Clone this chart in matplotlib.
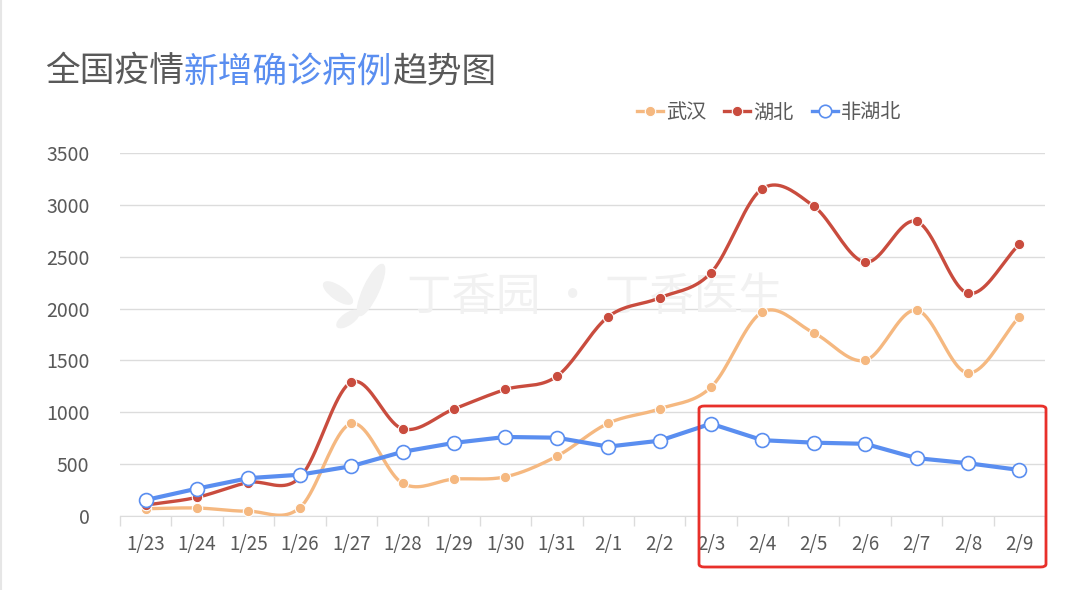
import numpy as np
import matplotlib
matplotlib.use("Agg")
import matplotlib.pyplot as plt
from matplotlib.lines import Line2D
from matplotlib.patches import FancyBboxPatch, Ellipse

plt.rcParams["font.family"] = ["Noto Sans CJK SC", "DejaVu Sans"]

dates = ["1/23", "1/24", "1/25", "1/26", "1/27", "1/28", "1/29", "1/30", "1/31",
         "2/1", "2/2", "2/3", "2/4", "2/5", "2/6", "2/7", "2/8", "2/9"]
wuhan = [70, 77, 46, 80, 892, 315, 356, 378, 576,
         894, 1033, 1242, 1967, 1766, 1501, 1985, 1379, 1920]
hubei = [105, 180, 323, 371, 1291, 840, 1032, 1220, 1347,
         1921, 2103, 2345, 3156, 2987, 2447, 2841, 2147, 2618]
non_hubei = [154, 264, 365, 398, 480, 619, 705, 762, 755,
             669, 726, 890, 731, 707, 696, 558, 509, 444]
yticks = [0, 500, 1000, 1500, 2000, 2500, 3000, 3500]

C_WUHAN = "#f5b880"
C_HUBEI = "#c94c3e"
C_NON = "#5a8ef0"
C_TEXT = "#595959"
C_GRID = "#dcdcdc"
C_MARK = "#f1f1f1"


def smooth(y, n=20):
    # Catmull-Rom spline through the points, like the office "smoothed line"
    y = np.asarray(y, dtype=float)
    p = np.concatenate([[2 * y[0] - y[1]], y, [2 * y[-1] - y[-2]]])
    xs, ys = [], []
    t = np.linspace(0, 1, n, endpoint=False)
    for i in range(len(y) - 1):
        p0, p1, p2, p3 = p[i], p[i + 1], p[i + 2], p[i + 3]
        seg = 0.5 * ((2 * p1) + (-p0 + p2) * t
                     + (2 * p0 - 5 * p1 + 4 * p2 - p3) * t ** 2
                     + (-p0 + 3 * p1 - 3 * p2 + p3) * t ** 3)
        xs.append(i + t)
        ys.append(seg)
    xs.append([len(y) - 1])
    ys.append([y[-1]])
    return np.concatenate(xs), np.concatenate(ys)


fig = plt.figure(figsize=(10.8, 5.9), dpi=100)
ax = fig.add_axes([120 / 1080, 74 / 590, 925 / 1080, 363 / 590])

x = np.arange(len(dates))

# watermark: leaf logo + brand text, kept under the lines
ax.text(595 / 1080, 1 - 297 / 590, "丁香园 · 丁香医生", transform=fig.transFigure,
        ha="center", va="center", fontsize=32, color=C_MARK, zorder=1)
for cx, cy, w, h, ang in [(371, 290, 15, 56, -25), (338, 293, 13, 34, 55),
                          (348, 319, 11, 26, -55)]:
    # positions in pixels -> inches so the rotation stays round
    ax.add_patch(Ellipse((cx / 100, (590 - cy) / 100), w / 100, h / 100,
                         angle=ang, transform=fig.dpi_scale_trans, color=C_MARK,
                         zorder=1, clip_on=False))

for vals, col in [(wuhan, C_WUHAN), (hubei, C_HUBEI)]:
    sx, sy = smooth(vals)
    ax.plot(sx, sy, color=col, lw=2.4, zorder=3, solid_capstyle="round")
    ax.plot(x, vals, "o", color=col, ms=7.5, mec="white", mew=0.8, zorder=4)

ax.plot(x, non_hubei, color=C_NON, lw=3, marker="o", ms=10, mfc="white",
        mec=C_NON, mew=1.2, zorder=5)

ax.set_xlim(-0.5, len(dates) - 0.5)
ax.set_ylim(0, 3500)
ax.set_yticks(yticks)
ax.set_yticklabels([str(v) for v in yticks], fontsize=14, color=C_TEXT)
ax.set_xticks(x)
ax.set_xticklabels(dates, fontsize=13.5, color=C_TEXT)
ax.set_xticks(np.arange(len(dates) + 1) - 0.5, minor=True)
ax.tick_params(axis="x", which="major", length=0, pad=13)
ax.tick_params(axis="x", which="minor", length=7, color=C_GRID, width=1)
ax.tick_params(axis="y", length=0, pad=22)
ax.grid(axis="y", color=C_GRID, lw=1, zorder=0.5)
ax.set_axisbelow(True)
for s in ["top", "right", "left"]:
    ax.spines[s].set_visible(False)
ax.spines["bottom"].set_color(C_GRID)

# title with blue middle part
t1 = fig.text(45 / 1080, 1 - 72 / 590, "全国疫情", fontsize=25, color=C_TEXT,
              va="center", ha="left")
t2 = ax.annotate("新增确诊病例", xy=(1, 0), xycoords=t1, va="bottom", ha="left",
                 fontsize=25, color=C_NON, annotation_clip=False)
ax.annotate("趋势图", xy=(1, 0), xycoords=t2, va="bottom", ha="left",
            fontsize=25, color=C_TEXT, annotation_clip=False)

handles = [
    Line2D([], [], color=C_WUHAN, lw=2.4, marker="o", ms=7.5, mec="white", mew=0.8),
    Line2D([], [], color=C_HUBEI, lw=2.4, marker="o", ms=7.5, mec="white", mew=0.8),
    Line2D([], [], color=C_NON, lw=2.4, marker="o", ms=9, mfc="white", mec=C_NON, mew=1.2),
]
leg = fig.legend(handles, ["武汉", "湖北", "非湖北"], loc="center",
                 bbox_to_anchor=(769 / 1080, 1 - 113 / 590), ncol=3, frameon=False,
                 fontsize=14.5, handlelength=1.3, handletextpad=0.15,
                 columnspacing=0.9, borderpad=0)
for txt in leg.get_texts():
    txt.set_color(C_TEXT)

# red highlight box
box = FancyBboxPatch((699 / 1080, 1 - 567 / 590), 347 / 1080, 161 / 590,
                     boxstyle="round,pad=0,rounding_size=0.005",
                     transform=fig.transFigure, fill=False, ec="#e8302a", lw=2,
                     zorder=10)
fig.patches.append(box)

# faint left border of the card
fig.add_artist(Line2D([1 / 1080, 1 / 1080], [0, 1], color="#e6e6e6", lw=1.5,
                      transform=fig.transFigure))

fig.savefig("out.png", dpi=100)
